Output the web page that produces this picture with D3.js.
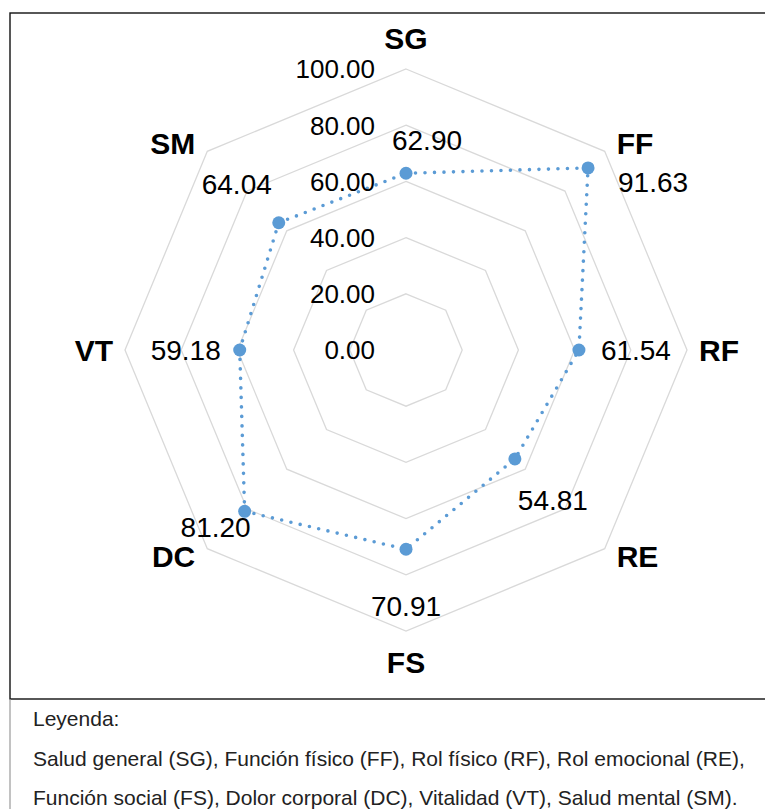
<!DOCTYPE html>
<html lang="es">
<head>
  <meta charset="UTF-8" />
  <title>Radar SF-36</title>
  <script src="https://d3js.org/d3.v7.min.js"></script>
  <style>
    body { margin: 0; background: #fff; }
    svg { display: block; font-family: "Liberation Sans", Arial, sans-serif; }
  </style>
</head>
<body>

<svg width="765" height="809"></svg>

<script>
  // Dimensiones (ejes del radar, en el orden de las agujas del reloj)
  const dimensiones = ["SG", "FF", "RF", "RE", "FS", "DC", "VT", "SM"];
  const puntajes = [62.90, 91.63, 61.54, 54.81, 70.91, 81.20, 59.18, 64.04];
  const ticks = [0, 20, 40, 60, 80, 100];
  const leyenda = [
    "Leyenda:",
    "Salud general (SG), Función físico (FF), Rol físico (RF), Rol emocional (RE),",
    "Función social (FS), Dolor corporal (DC), Vitalidad (VT), Salud mental (SM)."
  ];

  // desplazamiento (centro) de cada etiqueta de valor respecto a su punto
  const labelOffset = {
    SG: [21, -33], FF: [65, 14], RF: [57, 0], RE: [38, 41],
    FS: [0, 57], DC: [-29, 16], VT: [-54, 0], SM: [-42, -39]
  };

  const svg = d3.select("svg");
  const cx = 406, cy = 350, R = 281;
  const azul = "#5b9bd5";

  // Marcos
  svg.append("rect")
    .attr("x", 10).attr("y", 13)
    .attr("width", 770).attr("height", 686)
    .attr("fill", "none").attr("stroke", "#111").attr("stroke-width", 1.4);
  svg.append("line")
    .attr("x1", 10).attr("x2", 10).attr("y1", 699).attr("y2", 809)
    .attr("stroke", "#999").attr("stroke-width", 1.2);

  const r = d3.scaleLinear().domain([0, 100]).range([0, R]);
  const angle = d3.scalePoint().domain(dimensiones).range([0, 2 * Math.PI * (1 - 1 / dimensiones.length)]);

  const pos = (dim, v) => {
    const a = angle(dim);
    return [cx + r(v) * Math.sin(a), cy - r(v) * Math.cos(a)];
  };

  // Anillos (octágonos)
  const anillo = d3.lineRadial().curve(d3.curveLinearClosed)
    .angle(d => angle(d[0])).radius(d => r(d[1]));

  const g = svg.append("g").attr("transform", `translate(${cx},${cy})`);

  g.selectAll(".ring")
    .data(ticks.filter(t => t > 0))
    .join("path")
    .attr("class", "ring")
    .attr("d", t => anillo(dimensiones.map(d => [d, t])))
    .attr("fill", "none")
    .attr("stroke", "#d9d9d9")
    .attr("stroke-width", 1.3);

  // Etiquetas de la escala
  svg.selectAll(".tick")
    .data(ticks)
    .join("text")
    .attr("class", "tick")
    .attr("x", cx - 31)
    .attr("y", t => cy - r(t))
    .attr("dy", "0.36em")
    .attr("text-anchor", "end")
    .attr("font-size", 26)
    .attr("fill", "#000")
    .text(t => t.toFixed(2));

  // Nombres de las dimensiones
  svg.selectAll(".dim")
    .data(dimensiones)
    .join("text")
    .attr("class", "dim")
    .each(function (d) {
      const a = angle(d);
      const [vx, vy] = pos(d, 100);
      const sx = Math.sin(a), sy = -Math.cos(a);
      let anchor = "middle", x = vx;
      if (sx > 0.1) { anchor = "start"; x = vx + 12; }
      else if (sx < -0.1) { anchor = "end"; x = vx - 12; }
      const y = vy + sy * (Math.abs(sy) > 0.9 ? 31 : 11);
      d3.select(this).attr("x", x).attr("y", y).attr("dy", "0.36em").attr("text-anchor", anchor);
    })
    .attr("font-size", 30)
    .attr("font-weight", "bold")
    .text(d => d);

  // Serie
  const serie = dimensiones.map((d, i) => [d, puntajes[i]]);

  g.append("path")
    .attr("d", anillo(serie))
    .attr("fill", "none")
    .attr("stroke", azul)
    .attr("stroke-width", 3.6)
    .attr("stroke-linecap", "round")
    .attr("stroke-dasharray", "0 9.5");

  svg.selectAll(".punto")
    .data(serie)
    .join("circle")
    .attr("class", "punto")
    .attr("cx", d => pos(d[0], d[1])[0])
    .attr("cy", d => pos(d[0], d[1])[1])
    .attr("r", 6.5)
    .attr("fill", azul);

  svg.selectAll(".valor")
    .data(serie)
    .join("text")
    .attr("class", "valor")
    .attr("x", d => pos(d[0], d[1])[0] + labelOffset[d[0]][0])
    .attr("y", d => pos(d[0], d[1])[1] + labelOffset[d[0]][1])
    .attr("dy", "0.36em")
    .attr("text-anchor", "middle")
    .attr("font-size", 28)
    .attr("fill", "#000")
    .text(d => d[1].toFixed(2));

  // Leyenda
  svg.selectAll(".ley")
    .data(leyenda)
    .join("text")
    .attr("class", "ley")
    .attr("x", 33)
    .attr("y", (d, i) => 726 + i * 39.5)
    .attr("font-size", 21)
    .attr("fill", "#222")
    .text(d => d);
</script>

</body>
</html>
